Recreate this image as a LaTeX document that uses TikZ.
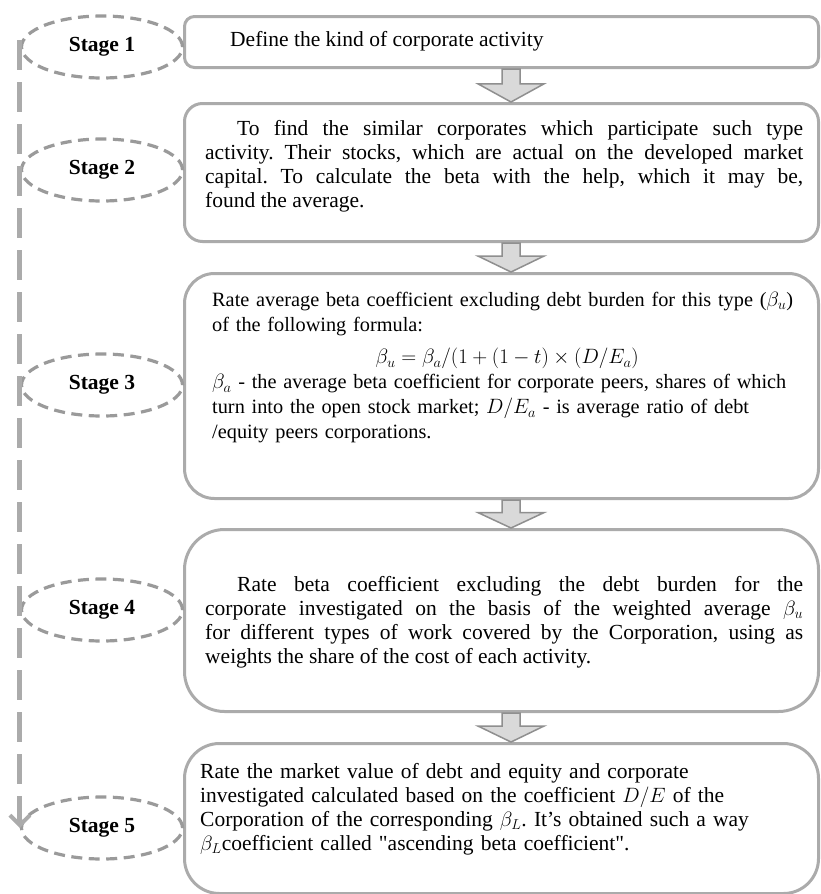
\documentclass[tikz,border=0pt]{standalone}
\usepackage{fontspec}
\setmainfont{Liberation Serif}
\usetikzlibrary{shapes.geometric,arrows.meta,calc}
\definecolor{boxgray}{HTML}{ABABAB}
\definecolor{dashgray}{HTML}{9A9A9A}
\definecolor{arrfill}{HTML}{D9D9D9}
\definecolor{arrline}{HTML}{8F8F8F}
\newcommand\bodyfont{\fontsize{21.5}{24}\selectfont\frenchspacing}
\newcommand\smallbody{\fontsize{20.3}{25}\selectfont\frenchspacing}
\newcommand\flowarrow[2]{%
  \draw[blockarrow] let \p1=(#1.south), \p2=(#2.north),
     \n1={\y1-0.45*(\y1-\y2)} in
     (502pt,\y1) -- (520pt,\y1) -- (520pt,\n1) -- (544pt,\n1)
     -- (511pt,\y2) -- (478pt,\n1) -- (502pt,\n1) -- cycle;}
\begin{document}
\begin{tikzpicture}[x=1pt,y=-1pt,
  flowbox/.style={draw=boxgray, line width=3pt, anchor=north west,
    minimum width=634pt, inner sep=0pt},
  stagelabel/.style={ellipse, draw=dashgray, line width=3.2pt,
    dash pattern=on 11pt off 6.5pt, minimum width=161pt, minimum height=62pt,
    inner sep=0pt, font=\bodyfont\bfseries},
  bodytext/.style={anchor=north west, text width=598pt, inner sep=0pt,
    font=\bodyfont, align=justify},
  lefttext/.style={anchor=north west, text width=605pt, inner sep=0pt,
    font=\bodyfont, align=left},
  blockarrow/.style={fill=arrfill, draw=arrline, line width=1.5pt, line join=miter},
  sideline/.style={draw=boxgray, line width=5pt, dash pattern=on 30pt off 12pt,
    -{Straight Barb[length=10pt,width=20pt,line width=4pt]}}]
\useasboundingbox (0,0) rectangle (821,894);
% boxes
\node[flowbox, rounded corners=10pt, minimum height=51pt]  (b1) at (183,15)  {};
\node[flowbox, rounded corners=18pt, minimum height=138pt] (b2) at (183,102) {};
\node[flowbox, rounded corners=30pt, minimum height=225pt] (b3) at (183,272) {};
\node[flowbox, rounded corners=40pt, minimum height=182pt] (b4) at (183,528) {};
\node[flowbox, rounded corners=35pt, minimum height=150pt] (b5) at (183,742) {};
% block arrows
\flowarrow{b1}{b2}
\flowarrow{b2}{b3}
\flowarrow{b3}{b4}
\flowarrow{b4}{b5}
% stage labels
\node[stagelabel] (s1) at (102,47)  {Stage 1};
\node[stagelabel] (s2) at (102,170) {Stage 2};
\node[stagelabel] (s3) at (102,385) {Stage 3};
\node[stagelabel] (s4) at (102,610) {Stage 4};
\node[stagelabel] (s5) at (102,828) {Stage 5};
% side connector
\draw[sideline] ([yshift=7pt]s1.west) -- (s5.west);
% texts
\node[anchor=west, font=\bodyfont, inner sep=0pt] (t1) at (230,41)
  {Define the kind of corporate activity};
\node[bodytext] (t2) at (205,120)
  {\hspace*{32pt}To find the similar corporates which participate such type\linebreak
   activity. Their stocks, which are actual on the developed market\linebreak
   capital. To calculate the beta with the help, which it may be,\linebreak
   found the average.};
\node[lefttext, font=\smallbody] (t3) at (212,292)
  {Rate average beta coefficient excluding debt burden for this type ($\beta_u$)\\
   of the following formula:\\
   \rule{0pt}{27pt}\makebox[590pt][c]{\fontsize{21.5}{25}\selectfont$\beta_u=\beta_a/(1+(1-t)\times(D/E_a)$}\\
   $\beta_a$ - the average beta coefficient for corporate peers, shares of which\\
   turn into the open stock market; $D/E_a$ - is average ratio of debt\\
   /equity peers corporations.};
\node[bodytext] (t4) at (205,576)
  {\hspace*{32pt}Rate beta coefficient excluding the debt burden for the\linebreak
   corporate investigated on the basis of the weighted average $\beta_u$\linebreak
   for different types of work covered by the Corporation, using as\linebreak
   weights the share of the cost of each activity.};
\node[lefttext] (t5) at (200,763)
  {Rate the market value of debt and equity and corporate\\
   investigated calculated based on the coefficient $D/E$ of the\\
   Corporation of the corresponding $\beta_L$. It's obtained such a way\\
   $\beta_L$coefficient called \textquotedbl ascending beta coefficient\textquotedbl.};
\end{tikzpicture}
\end{document}
